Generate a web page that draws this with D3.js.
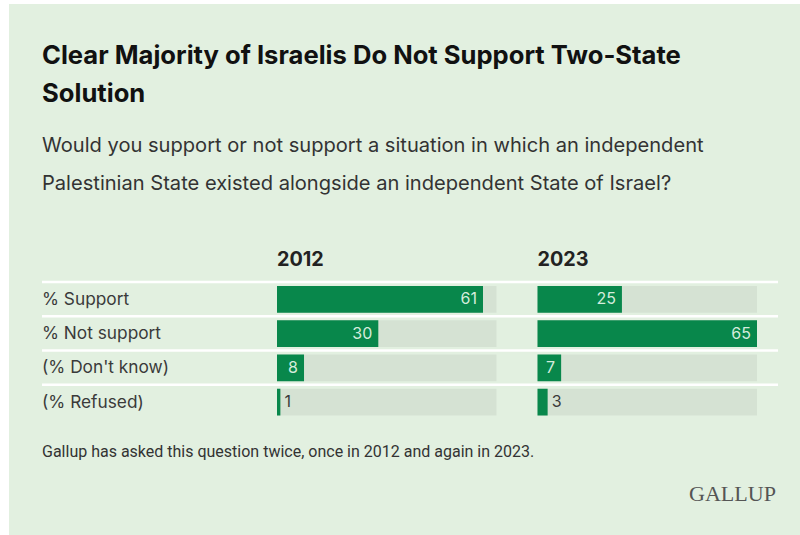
<!DOCTYPE html>
<html>
<head>
<meta charset="utf-8">
<script src="https://cdn.jsdelivr.net/npm/d3@7"></script>
<style>
  html, body { margin: 0; padding: 0; background: #ffffff; }
  svg { display: block; }
</style>
</head>
<body>
<svg id="chart" width="800" height="535"></svg>
<script>
"use strict";
// data
const categories = ["% Support", "% Not support", "(% Don't know)", "(% Refused)"];
const years = ["2012", "2023"];
const values2012 = [61, 30, 8, 1];
const values2023 = [25, 65, 7, 3];
const seriesValues = [values2012, values2023];

const titleLines = ["Clear Majority of Israelis Do Not Support Two-State", "Solution"];
const subtitleLines = [
    "Would you support or not support a situation in which an independent",
    "Palestinian State existed alongside an independent State of Israel?"
];
const footnote = "Gallup has asked this question twice, once in 2012 and again in 2023.";

const svg = d3.select("#chart");

// panel background
svg.append("rect")
    .attr("x", 9).attr("y", 4)
    .attr("width", 791).attr("height", 531)
    .attr("fill", "#e2f0e0");

// title
svg.append("g").selectAll("text")
    .data(titleLines)
    .enter().append("text")
    .attr("x", 42)
    .attr("y", (d, i) => 64 + i * 38)
    .attr("font-family", "Inter, 'Noto Sans', sans-serif")
    .attr("font-weight", 700)
    .attr("font-size", 25.6)
    .attr("fill", "#111")
    .text(d => d);

// subtitle
svg.append("g").selectAll("text")
    .data(subtitleLines)
    .enter().append("text")
    .attr("x", 42)
    .attr("y", (d, i) => 152 + i * 38)
    .attr("font-family", "Inter, 'Noto Sans', sans-serif")
    .attr("font-size", 20.1)
    .attr("fill", "#333")
    .text(d => d);

// layout of the two panels
const panelX = d3.scaleOrdinal().domain(years).range([277, 537.5]);
const panelWidth = 219.5;
const x = d3.scaleLinear()
    .domain([0, d3.max(seriesValues.flat())])
    .range([0, panelWidth]);
const y = d3.scaleBand()
    .domain(categories)
    .range([282, 419])
    .paddingInner(0);
const barPad = 4;

// year headers
svg.append("g").selectAll("text")
    .data(years)
    .enter().append("text")
    .attr("x", d => panelX(d))
    .attr("y", 266)
    .attr("font-family", "Inter, 'Noto Sans', sans-serif")
    .attr("font-weight", 700)
    .attr("font-size", 19.8)
    .attr("fill", "#222")
    .text(d => d);

// row separators
svg.append("g").selectAll("line")
    .data(categories)
    .enter().append("line")
    .attr("x1", 42).attr("x2", 778)
    .attr("y1", d => y(d)).attr("y2", d => y(d))
    .attr("stroke", "#ffffff")
    .attr("stroke-width", 2.5);

// row labels
svg.append("g").selectAll("text")
    .data(categories)
    .enter().append("text")
    .attr("x", 42)
    .attr("y", d => y(d) + y.bandwidth() / 2 + 1)
    .attr("dominant-baseline", "middle")
    .attr("font-family", "Inter, 'Noto Sans', sans-serif")
    .attr("font-size", 17.3)
    .attr("fill", "#3a3a3a")
    .text(d => d);

// bars for each year
years.forEach((yr, k) => {
    const g = svg.append("g")
        .attr("transform", "translate(" + panelX(yr) + ",0)");
    const rows = categories.map((c, i) => ({cat: c, value: seriesValues[k][i]}));

    g.selectAll(".track")
        .data(rows)
        .enter().append("rect")
        .attr("class", "track")
        .attr("x", 0)
        .attr("y", d => y(d.cat) + barPad)
        .attr("width", x.range()[1])
        .attr("height", y.bandwidth() - 2 * barPad + 0.5)
        .attr("fill", "#d5e2d3");

    g.selectAll(".bar")
        .data(rows)
        .enter().append("rect")
        .attr("class", "bar")
        .attr("x", 0)
        .attr("y", d => y(d.cat) + barPad)
        .attr("width", d => x(d.value))
        .attr("height", y.bandwidth() - 2 * barPad + 0.5)
        .attr("fill", "#08874b");

    g.selectAll(".val")
        .data(rows)
        .enter().append("text")
        .attr("class", "val")
        .attr("x", d => d.value >= 5 ? x(d.value) - 6 : x(d.value) + 4)
        .attr("y", d => y(d.cat) + y.bandwidth() / 2 + 1)
        .attr("dominant-baseline", "middle")
        .attr("text-anchor", d => d.value >= 5 ? "end" : "start")
        .attr("font-family", "Inter, 'Noto Sans', sans-serif")
        .attr("font-size", 16)
        .attr("fill", d => d.value >= 5 ? "#d4ecdc" : "#3a3a3a")
        .text(d => d.value);
});

// footnote
svg.append("text")
    .attr("x", 42)
    .attr("y", 457)
    .attr("font-family", "Roboto, 'Noto Sans', sans-serif")
    .attr("font-size", 16)
    .attr("fill", "#333")
    .text(footnote);

// logo
svg.append("text")
    .attr("x", 776)
    .attr("y", 501)
    .attr("text-anchor", "end")
    .attr("font-family", "'Liberation Serif', 'DejaVu Serif', serif")
    .attr("font-size", 22)
    .attr("fill", "#555")
    .attr("textLength", 87)
    .attr("lengthAdjust", "spacingAndGlyphs")
    .text("GALLUP");
</script>
</body>
</html>
